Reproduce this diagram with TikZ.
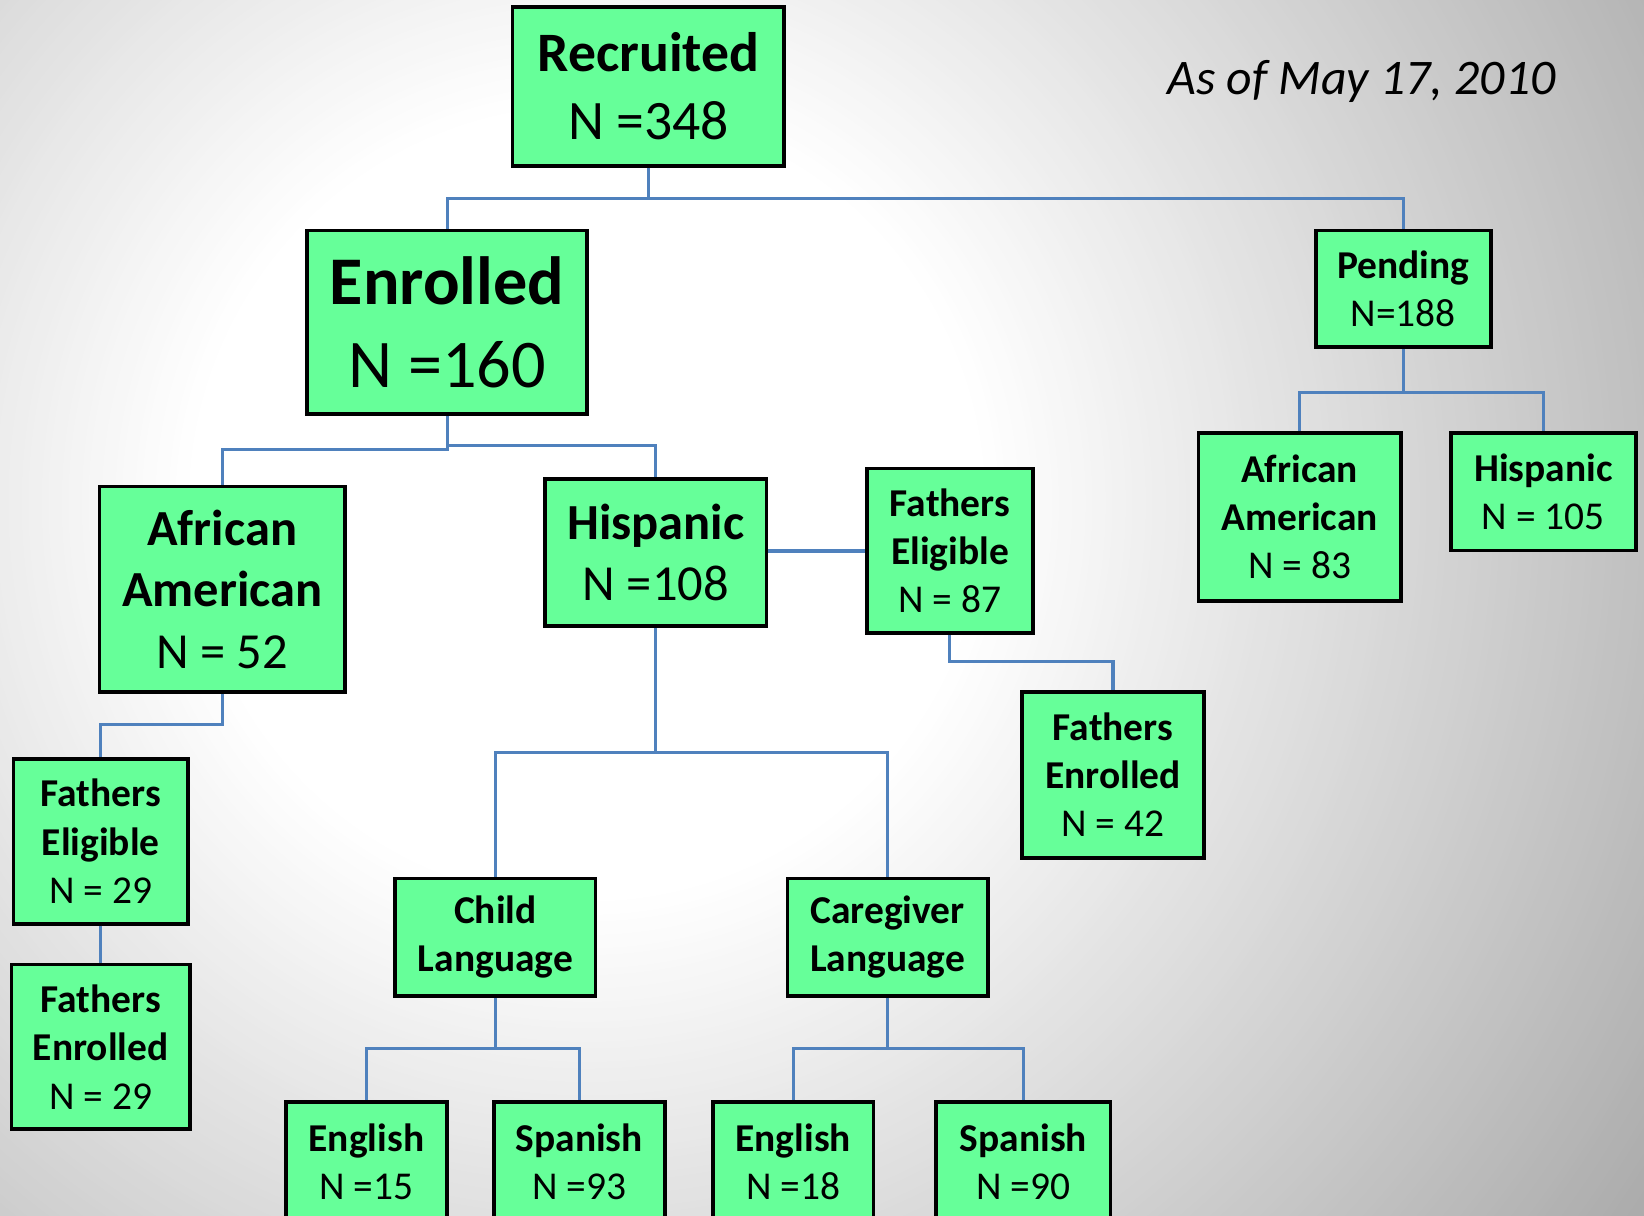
\documentclass[tikz,border=0pt]{standalone}
\usepackage{fontspec}
\setmainfont{Carlito}
\usetikzlibrary{positioning}
\definecolor{boxgreen}{RGB}{102,255,153}
\definecolor{linkblue}{RGB}{79,129,189}

\begin{document}
\begin{tikzpicture}[x=0.01cm,y=-0.01cm,
  box/.style={draw=black,line width=1pt,fill=boxgreen,align=center,inner sep=0pt},
  recbox/.style={box,font=\fontsize{15.1}{18.5}\selectfont},
  enrbox/.style={box,font=\fontsize{18.5}{22.5}\selectfont},
  groupbox/.style={box,font=\fontsize{13.7}{16.6}\selectfont},
  subbox/.style={box,font=\fontsize{10.7}{13.1}\selectfont},
  link/.style={draw=linkblue,line width=0.85pt}]
\useasboundingbox (0,0) rectangle (1568,1159);
\clip (0,0) rectangle (1568,1159);
\foreach \k in {36,35.75,...,0}
  \fill[black!\k] (560,480) circle ({380+25.5*\k});

\node[recbox,minimum width=2.59cm,minimum height=1.51cm] (rec) at (618.5,82.5) {\textbf{Recruited}\\N =348};
\node[font=\fontsize{13.5}{15}\selectfont\itshape] (date) at (1298.5,78) {As of May 17, 2010};
\node[enrbox,minimum width=2.67cm,minimum height=1.75cm] (enr) at (426.5,307.5) {\textbf{Enrolled}\\N =160};
\node[subbox,minimum width=1.67cm,minimum height=1.11cm] (pend) at (1338.5,275.5) {\textbf{Pending}\\N=188};
\node[subbox,minimum width=1.93cm,minimum height=1.60cm] (pend_aa) at (1239.5,493) {\textbf{African}\\\textbf{American}\\N = 83};
\node[subbox,minimum width=1.76cm,minimum height=1.12cm] (pend_hi) at (1472,469) {\textbf{Hispanic}\\N = 105};
\node[groupbox,minimum width=2.34cm,minimum height=1.96cm] (enr_aa) at (212,562) {\textbf{African}\\\textbf{American}\\N = 52};
\node[groupbox,minimum width=2.11cm,minimum height=1.40cm] (enr_hi) at (625.5,527) {\textbf{Hispanic}\\N =108};
\node[subbox,minimum width=1.58cm,minimum height=1.57cm] (hi_fe) at (906,525.5) {\textbf{Fathers}\\\textbf{Eligible}\\N = 87};
\node[subbox,minimum width=1.73cm,minimum height=1.58cm] (hi_fn) at (1061.5,739) {\textbf{Fathers}\\\textbf{Enrolled}\\N = 42};
\node[subbox,minimum width=1.66cm,minimum height=1.57cm] (aa_fe) at (96,802.5) {\textbf{Fathers}\\\textbf{Eligible}\\N = 29};
\node[subbox,minimum width=1.70cm,minimum height=1.57cm] (aa_fn) at (96,998.5) {\textbf{Fathers}\\\textbf{Enrolled}\\N = 29};
\node[subbox,minimum width=1.91cm,minimum height=1.12cm] (child) at (472.5,894) {\textbf{Child}\\\textbf{Language}};
\node[subbox,minimum width=1.91cm,minimum height=1.12cm] (care) at (846.5,894) {\textbf{Caregiver}\\\textbf{Language}};
\node[subbox,anchor=north,minimum width=1.53cm,minimum height=1.14cm] (child_en) at (349.5,1049) {\textbf{English}\\N =15};
\node[subbox,anchor=north,minimum width=1.63cm,minimum height=1.14cm] (child_sp) at (552.5,1049) {\textbf{Spanish}\\N =93};
\node[subbox,anchor=north,minimum width=1.53cm,minimum height=1.14cm] (care_en) at (756.5,1049) {\textbf{English}\\N =18};
\node[subbox,anchor=north,minimum width=1.66cm,minimum height=1.14cm] (care_sp) at (976,1049) {\textbf{Spanish}\\N =90};

\coordinate (bus_rec) at (0,189);
\coordinate (bus_enr_l) at (0,429);
\coordinate (bus_enr_r) at (0,425);
\coordinate (bus_pend) at (0,374);
\coordinate (bus_aa) at (0,691);
\coordinate (bus_fe) at (0,631);
\coordinate (bus_hi) at (0,718);
\coordinate (bus_lang) at (0,1000);

\draw[link] (rec.south) -- (rec.south |- bus_rec) -| (enr.north)
  (rec.south |- bus_rec) -| (pend.north);
\draw[link] (pend.south) -- (pend.south |- bus_pend) -| (pend_aa.north)
  (pend.south |- bus_pend) -| (pend_hi.north);
\draw[link] (enr.south) -- (enr.south |- bus_enr_l) -| (enr_aa.north);
\draw[link] (enr.south |- bus_enr_r) -| (enr_hi.north);
\draw[link] (enr_aa.south) -- (enr_aa.south |- bus_aa) -| (aa_fe.north);
\draw[link] (aa_fe.south) -- (aa_fn.north);
\draw[link] (enr_hi.east |- hi_fe.west) -- (hi_fe.west);
\draw[link] (hi_fe.south) -- (hi_fe.south |- bus_fe) -| (hi_fn.north);
\draw[link] (enr_hi.south) -- (enr_hi.south |- bus_hi) -| (child.north)
  (enr_hi.south |- bus_hi) -| (care.north);
\draw[link] (child.south) -- (child.south |- bus_lang) -| (child_en.north)
  (child.south |- bus_lang) -| (child_sp.north);
\draw[link] (care.south) -- (care.south |- bus_lang) -| (care_en.north)
  (care.south |- bus_lang) -| (care_sp.north);
\end{tikzpicture}
\end{document}
